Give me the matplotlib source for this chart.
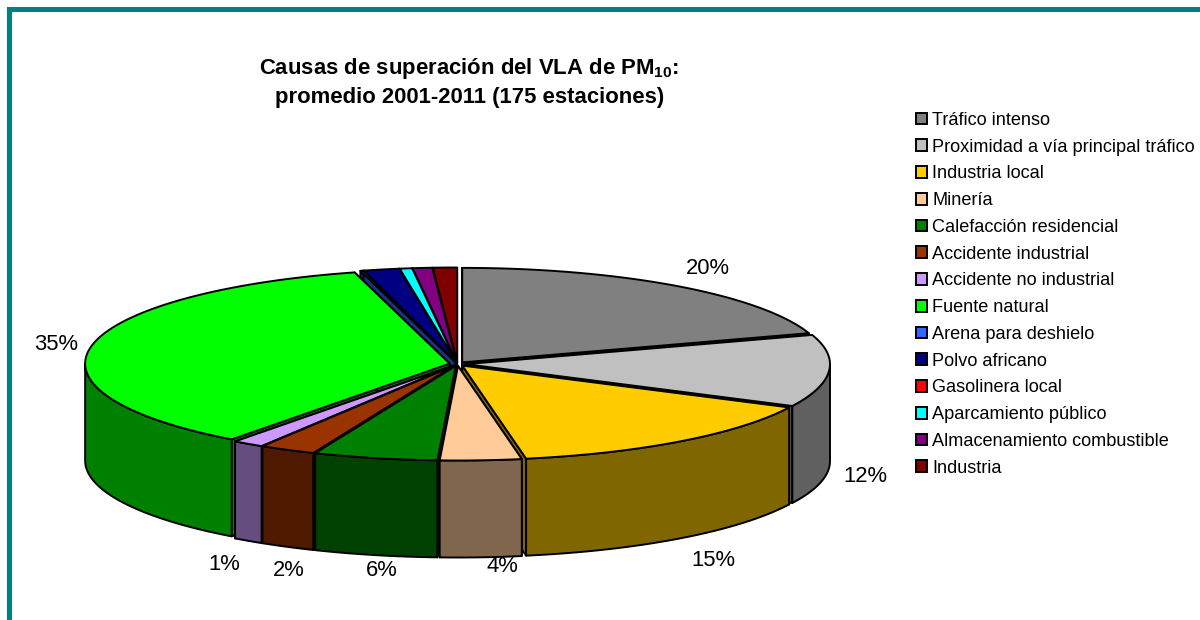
import numpy as np
import matplotlib
matplotlib.use('Agg')
import matplotlib.pyplot as plt
from matplotlib.patches import Polygon, Rectangle, Patch

plt.rcParams['font.family'] = ['Liberation Sans', 'DejaVu Sans']
plt.rcParams['mathtext.fontset'] = 'custom'
plt.rcParams['mathtext.bf'] = 'Liberation Sans:bold'
plt.rcParams['mathtext.rm'] = 'Liberation Sans'

categories = ['Tráfico intenso', 'Proximidad a vía principal tráfico', 'Industria local', 'Minería',
              'Calefacción residencial', 'Accidente industrial', 'Accidente no industrial', 'Fuente natural',
              'Arena para deshielo', 'Polvo africano', 'Gasolinera local', 'Aparcamiento público',
              'Almacenamiento combustible', 'Industria']
values = [20.0, 12.3, 14.9, 3.6, 5.5, 2.5, 1.4, 35.6, 0.14, 1.57, 0.0, 0.55, 0.87, 1.07]
colors = ['#808080', '#C0C0C0', '#FFCC00', '#FFCC99', '#008000', '#993300', '#CC99FF', '#00FF00',
          '#3366FF', '#000080', '#FF0000', '#00FFFF', '#800080', '#800000']
# labels as printed on the chart, only these slices carry one
pct_labels = ['20%', '12%', '15%', '4%', '6%', '2%', '1%', '35%']
label_pos = [(708, 268), (865, 476), (713, 561), (502, 566), (382, 571), (289, 570), (224, 565), (56, 344)]

# pie geometry, in pixels
cx, cy = 457.5, 364
rx, ry = 364.5, 94.5
ex, ey = 8, 2
depth = 97
teal = '#008080'
lw = 1.4


def darker(c):
    return tuple(v * 0.5 for v in matplotlib.colors.to_rgb(c))


def rim(t, dx, dy, down=0):
    return np.column_stack([cx + dx + rx * np.sin(t), cy + dy - ry * np.cos(t) + down])


fig = plt.figure(figsize=(12, 6.2), dpi=100)
ax = fig.add_axes([0, 0, 1, 1])
ax.set_xlim(0, 1200)
ax.set_ylim(620, 0)
ax.axis('off')

ax.add_patch(Rectangle((7, 7), 1193, 5, fc=teal, ec='none'))
ax.add_patch(Rectangle((7, 7), 5, 613, fc=teal, ec='none'))

edges = np.cumsum([0] + values) / sum(values) * 2 * np.pi
slices = []
for i in range(len(values)):
    if values[i] > 0:
        slices.append((i, edges[i], edges[i + 1]))
# back slices first
slices.sort(key=lambda s: -np.cos((s[1] + s[2]) / 2))

z = 2
for i, t0, t1 in slices:
    mid = (t0 + t1) / 2
    dx = ex * np.sin(mid)
    dy = -ey * np.cos(mid)
    top_c = colors[i]
    side_c = darker(top_c)
    apex = np.array([[cx + dx, cy + dy]])

    # the two cut faces
    for t in (t0, t1):
        p = rim(np.array([t]), dx, dy)
        face = np.vstack([apex, p, p + [0, depth], apex + [0, depth]])
        ax.add_patch(Polygon(face, closed=True, fc=side_c, ec='black', lw=lw, zorder=z, joinstyle='round'))
        z += 1

    # outer wall, only the front half of the ellipse shows
    a = max(t0, np.pi / 2)
    b = min(t1, 3 * np.pi / 2)
    if b > a:
        ts = np.linspace(a, b, 80)
        wall = np.vstack([rim(ts, dx, dy), rim(ts[::-1], dx, dy, depth)])
        ax.add_patch(Polygon(wall, closed=True, fc=side_c, ec='black', lw=lw, zorder=z, joinstyle='round'))
        z += 1

    ts = np.linspace(t0, t1, 120)
    top = np.vstack([apex, rim(ts, dx, dy)])
    ax.add_patch(Polygon(top, closed=True, fc=top_c, ec='black', lw=lw, zorder=z, joinstyle='round'))
    z += 1

for s, (x, y) in zip(pct_labels, label_pos):
    ax.text(x, y, s, fontsize=15.8, ha='center', va='center', color='black', zorder=z)

ax.text(469.5, 82, 'Causas de superación del VLA de PM$\\mathbf{_{10}}$:\npromedio 2001-2011 (175 estaciones)',
        fontsize=15.9, fontweight='bold', ha='center', va='center', linespacing=1.41, zorder=z)

handles = [Patch(fc=c, ec='black', lw=1.4) for c in colors]
ax.legend(handles, categories, loc='upper left', bbox_to_anchor=(916 / 1200, 1 - 112 / 620),
          frameon=False, fontsize=13.1, handlelength=0.62, handleheight=0.62, handletextpad=0.28,
          labelspacing=0.535, borderpad=0, borderaxespad=0)

fig.savefig('out.png', dpi=100)
